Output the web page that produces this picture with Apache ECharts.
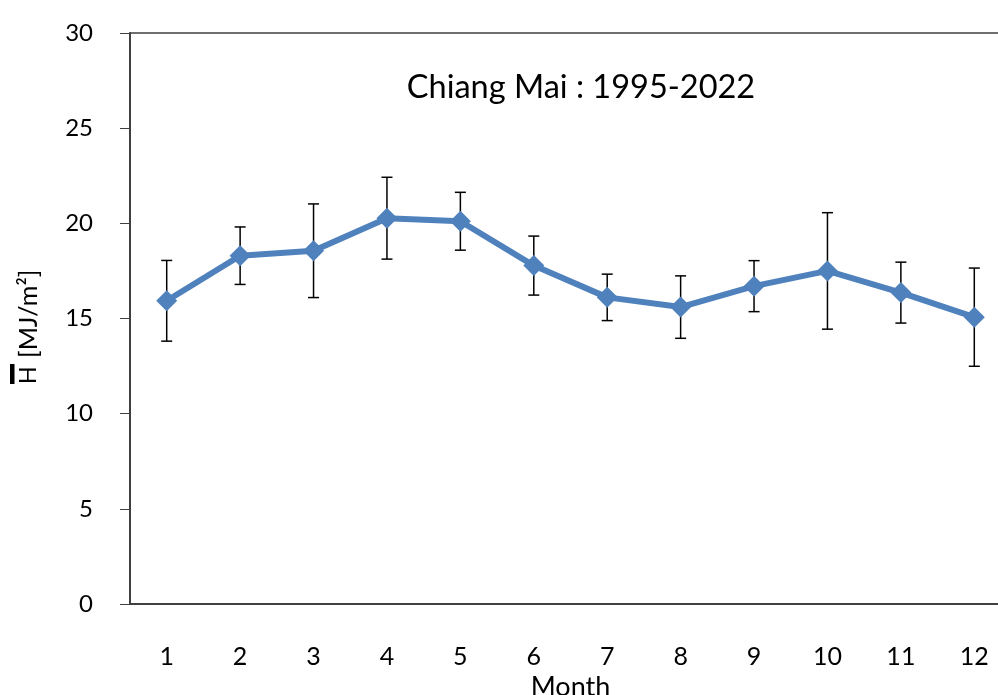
<!DOCTYPE html>
<html><head><meta charset="utf-8">
<script src="https://cdn.jsdelivr.net/npm/echarts@6/dist/echarts.min.js"></script>
<style>html,body{margin:0;padding:0;background:#fff}#c{width:998px;height:695px}</style>
</head><body><div id="c"></div>
<script>
var months = ['1','2','3','4','5','6','7','8','9','10','11','12'];
var meanH = [15.93, 18.30, 18.56, 20.27, 20.11, 17.78, 16.11, 15.60, 16.70, 17.50, 16.36, 15.07];
var sdH = [2.12, 1.51, 2.46, 2.15, 1.52, 1.55, 1.22, 1.64, 1.34, 3.06, 1.60, 2.58];
var yTicks = [0, 5, 10, 15, 20, 25, 30];
var titleText = 'Chiang Mai : 1995-2022';
var xName = 'Month';
var yNameSymbol = 'H';
var yNameUnit = '[MJ/m\u00B2]';

var FONT = 'Lato';
var errData = meanH.map(function (m, i) { return [i, m - sdH[i], m + sdH[i]]; });

var chart = echarts.init(document.getElementById('c'), null, {renderer: 'canvas'});
chart.setOption({
  animation: false,
  backgroundColor: '#fff',
  title: {
    text: titleText, left: 576, top: 66, textAlign: 'center',
    textStyle: {fontFamily: FONT, fontSize: 32.5, fontWeight: 'normal', color: '#000'}
  },
  grid: {left: 130, top: 33, width: 881, height: 571, outerBoundsMode: 'none', containLabel: false, show: false},
  xAxis: [{
    type: 'category', data: months, boundaryGap: true,
    name: xName, nameLocation: 'middle', nameGap: 62,
    nameTextStyle: {fontFamily: FONT, fontSize: 27, color: '#000'},
    axisLine: {lineStyle: {color: '#404040', width: 2}},
    axisTick: {alignWithLabel: true, length: 9, lineStyle: {color: '#404040', width: 1}},
    axisLabel: {margin: 40, fontFamily: FONT, fontSize: 25, color: '#000'},
    splitLine: {show: false}
  }, {
    type: 'category', data: months, position: 'top', boundaryGap: true,
    axisLine: {show: true, lineStyle: {color: '#404040', width: 1.5}},
    axisTick: {show: false}, axisLabel: {show: false}, splitLine: {show: false}
  }],
  yAxis: {
    type: 'value', min: yTicks[0], max: yTicks[yTicks.length - 1], interval: yTicks[1] - yTicks[0],
    axisLine: {show: true, lineStyle: {color: '#404040', width: 2}},
    axisTick: {show: true, length: 10, lineStyle: {color: '#404040', width: 1}},
    axisLabel: {margin: 37, fontFamily: FONT, fontSize: 24, color: '#000'},
    splitLine: {show: false}
  },
  graphic: [{
    type: 'group', x: 29, y: 384, rotation: Math.PI / 2,
    children: [
      {type: 'text', x: 0, y: 0, style: {text: yNameSymbol, fontFamily: FONT, fontSize: 23, fill: '#000', align: 'left', verticalAlign: 'middle'}},
      {type: 'rect', shape: {x: 0, y: -19, width: 20, height: 4.5}, style: {fill: '#000'}},
      {type: 'text', x: 26, y: 0, style: {text: yNameUnit, fontFamily: FONT, fontSize: 25, fill: '#000', align: 'left', verticalAlign: 'middle'}}
    ]
  }],
  series: [
    {
      type: 'custom', z: 1, data: errData,
      renderItem: function (params, api) {
        var x = api.value(0);
        var lo = api.coord([x, api.value(1)]);
        var hi = api.coord([x, api.value(2)]);
        var w = 5.5;
        var st = {stroke: '#000', lineWidth: 1.5};
        return {type: 'group', children: [
          {type: 'line', shape: {x1: lo[0], y1: lo[1], x2: hi[0], y2: hi[1]}, style: st},
          {type: 'line', shape: {x1: lo[0] - w, y1: lo[1], x2: lo[0] + w, y2: lo[1]}, style: st},
          {type: 'line', shape: {x1: hi[0] - w, y1: hi[1], x2: hi[0] + w, y2: hi[1]}, style: st}
        ]};
      }
    },
    {
      type: 'line', z: 3, data: meanH,
      symbol: 'diamond', symbolSize: 21,
      lineStyle: {color: '#4F81BD', width: 6},
      itemStyle: {color: '#4F81BD'}
    }
  ]
});
</script></body></html>
